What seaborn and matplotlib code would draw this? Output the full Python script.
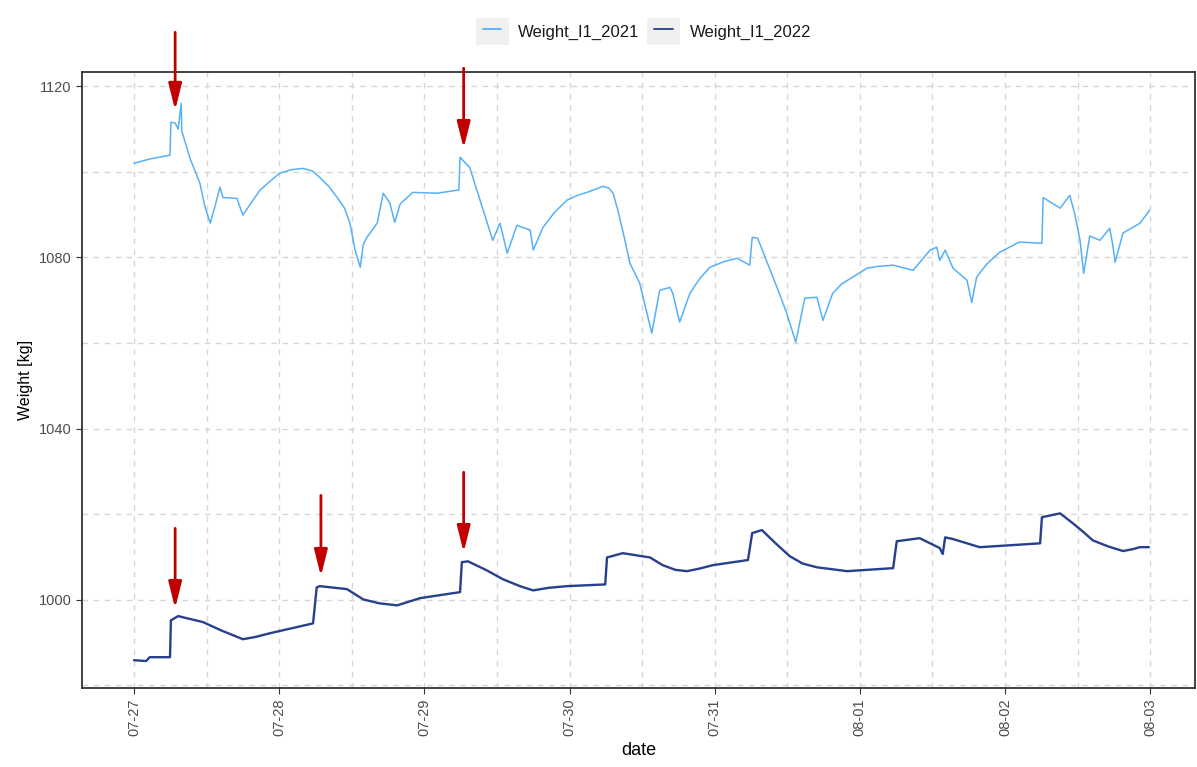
import pandas as pd
import numpy as np
import seaborn as sns
import matplotlib.pyplot as plt
import matplotlib.dates as mdates
from matplotlib.legend_handler import HandlerLine2D
from matplotlib.lines import Line2D
from matplotlib.patches import Rectangle

# hours since 07-27 00:00 and weight [kg]
hours_2021 = [0, 2.6, 5.95, 6.1, 6.8, 7.3, 7.8, 7.9, 9.3, 10.9, 11.7, 12.6, 13.4, 14.2, 14.7,
              17.0, 18.0, 20.8, 22.5, 24.1, 26.0, 27.9, 29.5, 30.7, 32.2, 33.6, 34.8, 35.7,
              36.5, 37.4, 37.9, 38.5, 40.2, 41.2, 42.3, 43.1, 44.0, 46.1, 50.1, 53.4, 53.7,
              53.9, 55.5, 57.2, 59.3, 60.5, 61.7, 63.3, 65.5, 66.0, 67.6, 69.5, 71.6, 73.3,
              74.9, 77.5, 78.5, 79.2, 80.0, 81.0, 82.0, 83.6, 85.6, 86.9, 88.6, 89.1, 90.2,
              91.9, 93.5, 95.2, 97.5, 99.7, 101.8, 102.2, 103.1, 106.3, 107.9, 109.4, 110.9,
              112.9, 113.9, 115.5, 117.0, 118.8, 121.2, 123.0, 125.5, 128.8, 131.6, 132.7,
              133.2, 134.1, 135.4, 137.7, 138.5, 139.3, 141.0, 143.1, 146.4, 150.1, 150.3,
              153.1, 154.7, 155.5, 156.4, 157.0, 158.0, 159.7, 161.3, 161.8, 162.2, 163.5,
              166.3, 167.9]
weight_2021 = [1102.0, 1103.0, 1103.9, 1111.6, 1111.4, 1110.0, 1116.0, 1109.5, 1103.0, 1097.3,
               1092.0, 1088.0, 1092.0, 1096.4, 1094.0, 1093.8, 1089.9, 1095.7, 1097.8, 1099.7,
               1100.5, 1100.8, 1100.2, 1098.7, 1096.6, 1094.0, 1091.5, 1088.0, 1082.0, 1077.7,
               1083.0, 1084.7, 1088.0, 1095.0, 1092.7, 1088.2, 1092.5, 1095.2, 1095.0, 1095.7,
               1095.7, 1103.4, 1101.0, 1093.4, 1084.0, 1088.0, 1081.0, 1087.5, 1086.4, 1081.7,
               1087.0, 1090.5, 1093.4, 1094.5, 1095.2, 1096.6, 1096.2, 1095.0, 1091.0, 1085.0,
               1078.6, 1074.0, 1062.3, 1072.3, 1073.0, 1071.5, 1064.9, 1071.6, 1075.0, 1077.7,
               1079.0, 1079.8, 1078.2, 1084.7, 1084.5, 1073.0, 1067.0, 1060.2, 1070.5, 1070.7,
               1065.3, 1071.6, 1073.8, 1075.4, 1077.5, 1077.9, 1078.2, 1077.0, 1081.7, 1082.4,
               1079.3, 1081.7, 1077.5, 1074.7, 1069.5, 1075.4, 1078.5, 1081.2, 1083.6, 1083.3,
               1094.0, 1091.5, 1094.5, 1090.3, 1084.0, 1076.3, 1085.0, 1084.0, 1086.8, 1083.0,
               1078.9, 1085.7, 1088.0, 1091.0]

hours_2022 = [0, 2.0, 2.6, 5.95, 6.1, 7.3, 11.4, 14.5, 18.0, 20.0, 22.5, 29.6, 30.2, 30.7,
              35.2, 37.9, 40.5, 43.5, 47.3, 53.9, 54.2, 55.2, 58.3, 61.0, 63.8, 66.0, 68.5,
              71.6, 77.9, 78.2, 80.8, 85.3, 87.4, 89.5, 91.4, 93.5, 95.7, 101.5, 102.2, 103.8,
              106.0, 108.4, 110.5, 112.9, 117.9, 125.5, 126.1, 129.9, 133.2, 133.7, 134.1,
              135.4, 139.8, 149.8, 150.1, 153.1, 155.2, 157.0, 158.5, 161.0, 163.5, 165.0,
              166.3, 167.8]
weight_2022 = [985.9, 985.7, 986.6, 986.6, 995.2, 996.2, 994.8, 992.8, 990.8, 991.3, 992.2,
               994.5, 1002.9, 1003.2, 1002.5, 1000.1, 999.2, 998.7, 1000.4, 1001.8, 1008.8,
               1009.0, 1006.9, 1004.8, 1003.2, 1002.2, 1002.8, 1003.2, 1003.6, 1009.9, 1010.9,
               1009.9, 1008.1, 1007.0, 1006.7, 1007.3, 1008.1, 1009.3, 1015.6, 1016.3, 1013.3,
               1010.2, 1008.5, 1007.6, 1006.7, 1007.4, 1013.7, 1014.4, 1012.1, 1010.7, 1014.6,
               1014.2, 1012.3, 1013.2, 1019.3, 1020.2, 1017.9, 1015.8, 1013.9, 1012.5, 1011.4,
               1011.8, 1012.3, 1012.3]

# red arrows: hour, tail weight, tip weight
arrow_hours = [6.8, 54.5, 6.8, 30.9, 54.5]
arrow_tail = [1132.6, 1124.2, 1016.7, 1024.4, 1029.8]
arrow_tip = [1114.4, 1105.5, 998.0, 1005.5, 1011.1]

series_names = ["Weight_I1_2021", "Weight_I1_2022"]
palette = {"Weight_I1_2021": "#56B1F7", "Weight_I1_2022": "#28408C"}

base = pd.Timestamp("2022-07-27")


def to_time(h):
    return base + pd.to_timedelta(np.asarray(h, dtype=float), unit="h")


df = pd.concat([
    pd.DataFrame({"date": to_time(hours_2021), "weight": weight_2021, "series": series_names[0]}),
    pd.DataFrame({"date": to_time(hours_2022), "weight": weight_2022, "series": series_names[1]}),
], ignore_index=True)


class KeyHandler(HandlerLine2D):
    # ggplot-like grey key box behind the legend line
    def create_artists(self, legend, orig_handle, xdescent, ydescent, width, height, fontsize, trans):
        pad = 0.45 * fontsize
        bg = Rectangle((-xdescent - pad, -ydescent - 0.2 * fontsize), width + 2 * pad,
                       height + 0.4 * fontsize, facecolor="#F0F0F0", edgecolor="none",
                       transform=trans)
        arts = super().create_artists(legend, orig_handle, xdescent, ydescent, width, height,
                                      fontsize, trans)
        return [bg] + arts


sns.set_theme(style="white")
plt.rcParams["font.family"] = ["Liberation Sans", "DejaVu Sans"]

fig = plt.figure(figsize=(11.97, 7.67), dpi=100)
ax = fig.add_axes([0.0685, 0.103, 0.9298, 0.803])

sns.lineplot(data=df[df["series"] == series_names[0]], x="date", y="weight", color=palette[series_names[0]],
             linewidth=1.1, estimator=None, sort=False, ax=ax)
sns.lineplot(data=df[df["series"] == series_names[1]], x="date", y="weight", color=palette[series_names[1]],
             linewidth=1.7, estimator=None, sort=False, ax=ax)

for h, t0, t1 in zip(arrow_hours, arrow_tail, arrow_tip):
    t = mdates.date2num(to_time([h])[0])
    ax.annotate("", xy=(t, t1), xytext=(t, t0), annotation_clip=False,
                arrowprops=dict(arrowstyle="-|>,head_width=0.2,head_length=0.8",
                                color="#C00000", lw=2.0, shrinkA=0, shrinkB=0,
                                mutation_scale=20))

ax.set_xlim(to_time([-8.6])[0], to_time([175.4])[0])
ax.set_ylim(979.4, 1123.3)
ax.xaxis.set_major_locator(mdates.DayLocator())
ax.xaxis.set_major_formatter(mdates.DateFormatter("%m-%d"))
ax.xaxis.set_minor_locator(mdates.HourLocator(byhour=[12]))
ax.set_yticks([1000, 1040, 1080, 1120])
ax.set_yticks([980, 1020, 1060, 1100], minor=True)

ax.grid(which="both", color="#D6D6D6", linestyle=(0, (4, 4)), linewidth=1.0)
ax.tick_params(axis="both", which="major", length=4, width=0.8, color="#333333",
               labelsize=10.5, labelcolor="#4D4D4D", direction="out", bottom=True, left=True)
ax.tick_params(axis="both", which="minor", length=0)
plt.setp(ax.get_xticklabels(), rotation=90, va="top", ha="center")
for s in ax.spines.values():
    s.set_color("#333333")
    s.set_linewidth(1.3)

ax.set_xlabel("date", fontsize=13, color="black")
ax.set_ylabel("Weight [kg]", fontsize=11.5, color="black")

handles = [Line2D([], [], color=palette[n], lw=1.3) for n in series_names]
fig.legend(handles, series_names, loc="center", bbox_to_anchor=(647 / 1197, 1 - 31 / 767),
           ncol=2, frameon=False, fontsize=12, handlelength=1.1, handleheight=1.5,
           columnspacing=0.9, handletextpad=1.0, labelcolor="#1A1A1A",
           handler_map={Line2D: KeyHandler()})

fig.savefig("out.png", dpi=100)
